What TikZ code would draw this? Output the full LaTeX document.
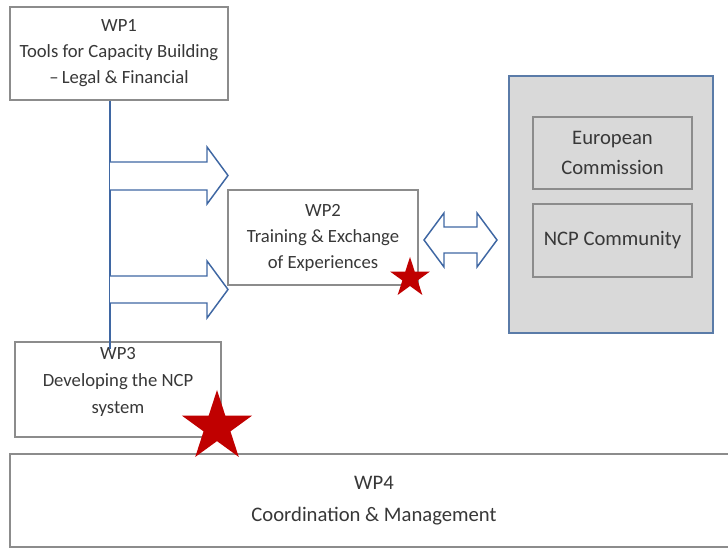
\documentclass[tikz,border=0pt]{standalone}
\usepackage{fontspec}
\setmainfont{Carlito}
\usetikzlibrary{shapes.geometric}
\definecolor{boxline}{HTML}{8C8C8C}
\definecolor{arrowblue}{HTML}{3F67A3}
\definecolor{outerline}{HTML}{5A7BA8}
\definecolor{outerfill}{HTML}{D9D9D9}
\definecolor{txt}{HTML}{383838}
\definecolor{starred}{HTML}{C00000}
\tikzset{
  wpbox/.style={draw=boxline, line width=0.9pt, fill=white, align=center, text=txt, font=\fontsize{14}{19.5}\selectfont, inner sep=0pt},
  wptext/.style={align=center, text=txt, font=\fontsize{14}{20.5}\selectfont, inner sep=0pt},
  innerbox/.style={draw=boxline, line width=0.9pt, fill=outerfill, align=center, text=txt, font=\fontsize{15.5}{22.5}\selectfont, inner sep=0pt, minimum width=119.25pt},
  blockarrow/.style={draw=arrowblue, line width=1.1pt, fill=white, line join=miter},
  redstar/.style={star, star points=5, star point ratio=2.618, fill=starred, draw=none, inner sep=0pt},
}
\begin{document}
\begin{tikzpicture}[x=0.75pt, y=-0.75pt]
\useasboundingbox (0,0) rectangle (728,548);
% WP4 (drawn first, extends past right edge)
\node[wpbox, minimum width=546pt, minimum height=69.75pt, font=\fontsize{15.5}{24}\selectfont] (wp4) at (374,500.5) {WP4\\Coordination \& Management};
% outer gray box
\node[draw=outerline, line width=1.4pt, fill=outerfill, minimum width=153pt, minimum height=192.75pt, inner sep=0pt] (outer) at (611,204.5) {};
\node[innerbox, minimum height=54pt] (ec) at (612.5,153) {European\\Commission};
\node[innerbox, minimum height=54.75pt] (ncp) at (612.5,240.5) {NCP Community};
% WP boxes
\node[wpbox, minimum width=163.5pt, minimum height=69.75pt] (wp1) at (119,53.5) {WP1\\Tools for Capacity Building\\--\,Legal \& Financial};
\node[wpbox, minimum width=142.5pt, minimum height=71.25pt] (wp2) at (323,237.5) {WP2\\Training \& Exchange\\of Experiences};
\node[wpbox, minimum width=154.5pt, minimum height=71.25pt] (wp3) at (118,389.5) {};
\node[wptext] (wp3text) at (118,382) {WP3\\Developing the NCP\\system};
% vertical line
\coordinate (vtop) at (wp1.south -| 110,0);
\coordinate (vbot) at (110,349);
\draw[arrowblue, line width=2pt] (vtop) -- (vbot);
% block arrows to WP2
\draw[blockarrow] (110,162) -- (207,162) -- (207,147) -- (228,175.5) -- (207,204) -- (207,190) -- (110,190);
\draw[blockarrow] (110,276) -- (207,276) -- (207,261) -- (228,289.5) -- (207,318) -- (207,303) -- (110,303);
% double arrow
\draw[blockarrow] (424,240) -- (444,213) -- (444,227) -- (477,227) -- (477,213) -- (497,240) -- (477,267) -- (477,253) -- (444,253) -- (444,267) -- cycle;
% stars
\node[redstar, minimum size=42*0.75pt] (star2) at (410,278) {};
\node[redstar, minimum size=74*0.75pt] (star3) at (217,427) {};
\end{tikzpicture}
\end{document}
